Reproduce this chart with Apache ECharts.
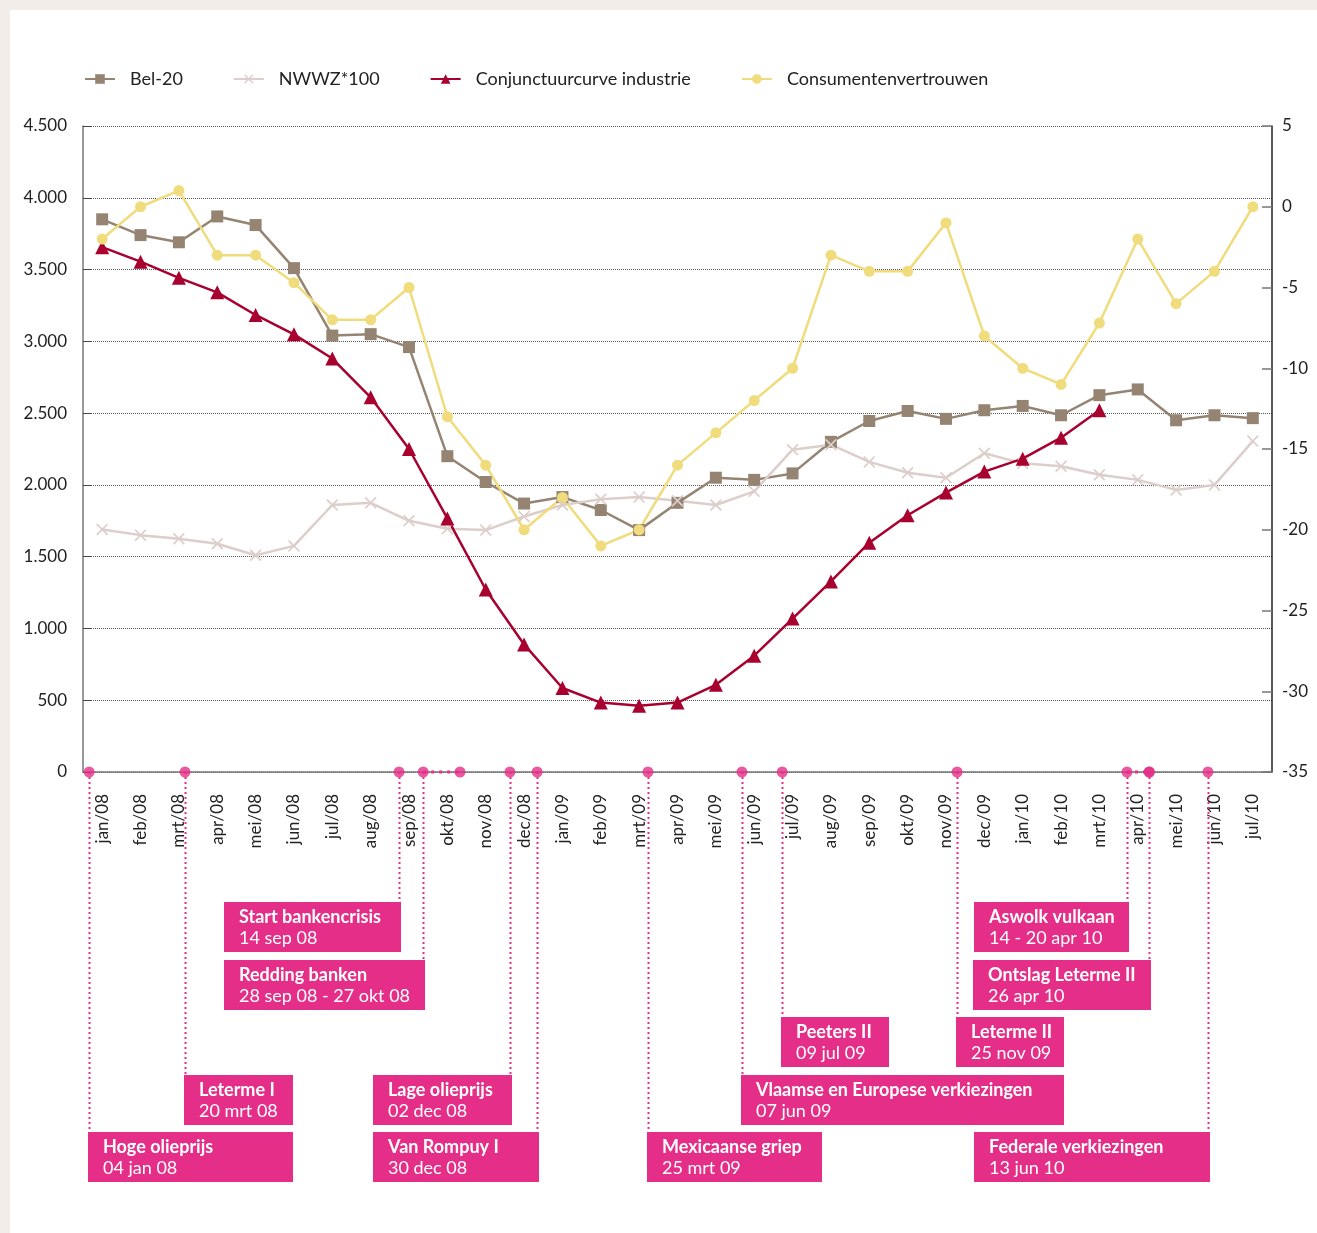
<!DOCTYPE html>
<html>
<head>
<meta charset="utf-8">
<script src="https://cdn.jsdelivr.net/npm/echarts@6/dist/echarts.min.js"></script>
<style>
  html, body { margin: 0; padding: 0; background: #f2ede8; }
  #panel { position: absolute; left: 10px; top: 10px; right: 0; bottom: 0; background: #fff; }
  #main { position: absolute; left: 0; top: 0; width: 1317px; height: 1233px; }
</style>
</head>
<body>
<div id="panel"></div>
<div id="main"></div>
<script>
// maanden
var months = ['jan/08','feb/08','mrt/08','apr/08','mei/08','jun/08','jul/08','aug/08','sep/08','okt/08','nov/08','dec/08',
  'jan/09','feb/09','mrt/09','apr/09','mei/09','jun/09','jul/09','aug/09','sep/09','okt/09','nov/09','dec/09',
  'jan/10','feb/10','mrt/10','apr/10','mei/10','jun/10','jul/10'];

// linkeras
var bel20 = [3850,3740,3690,3870,3810,3510,3040,3050,2960,2200,2020,1870,1915,1825,1685,1875,2050,2035,2080,2300,2445,2515,2460,2520,2550,2485,2625,2665,2450,2485,2465];
var nwwz = [1690,1650,1625,1590,1510,1575,1860,1875,1750,1695,1685,1780,1860,1900,1915,1890,1860,1955,2245,2280,2160,2085,2050,2220,2150,2130,2070,2035,1965,2000,2305];

// rechteras
var conjunctuur = [-2.5,-3.4,-4.4,-5.3,-6.7,-7.9,-9.4,-11.8,-15.0,-19.3,-23.7,-27.1,-29.8,-30.7,-30.9,-30.7,-29.6,-27.8,-25.5,-23.2,-20.8,-19.1,-17.7,-16.4,-15.6,-14.3,-12.6,null,null,null,null];
var consument = [-2,0,1,-3,-3,-4.7,-7,-7,-5,-13,-16,-20,-18,-21,-20,-16,-14,-12,-10,-3,-4,-4,-1,-8,-10,-11,-7.2,-2,-6,-4,0];

// gebeurtenissen (positie in maanden vanaf jan/08)
var eventTitles = ['Hoge olieprijs','Leterme I','Start bankencrisis','Redding banken','Lage olieprijs','Van Rompuy I',
  'Mexicaanse griep','Vlaamse en Europese verkiezingen','Peeters II','Leterme II','Aswolk vulkaan','Ontslag Leterme II','Federale verkiezingen'];
var eventDates = ['04 jan 08','20 mrt 08','14 sep 08','28 sep 08 - 27 okt 08','02 dec 08','30 dec 08',
  '25 mrt 09','07 jun 09','09 jul 09','25 nov 09','14 - 20 apr 10','26 apr 10','13 jun 10'];
var eventPos = [0.16,2.66,8.24,8.87,11.13,11.84,14.73,17.18,18.23,22.79,27.22,27.8,29.33];
var eventEnd = [null,null,null,9.83,null,null,null,null,null,null,27.8,null,null];

// opmaak van de kaders
var boxRow = [4,3,0,1,3,4,4,3,2,2,0,1,4];
var boxSide = ['l','l','r','r','r','r','l','l','l','l','r','r','r'];
var boxWidth = [205,109,177,201,139,166,175,323,108,108,155,178,236];
var rowTop = [902,960,1017,1075,1132];

var PINK = '#e52e87';
var FONT = 'Lato';

function fmt(v) {
  return String(v).replace(/\B(?=(\d{3})+(?!\d))/g, '.');
}

var crossPath = 'path://M1,0 L5,4 L9,0 L10,1 L6,5 L10,9 L9,10 L5,6 L1,10 L0,9 L4,5 L0,1 Z';

var dots = [];
var ranges = [];
for (var i = 0; i < eventPos.length; i++) {
  dots.push([eventPos[i], 0]);
  if (eventEnd[i] != null) {
    dots.push([eventEnd[i], 0]);
    ranges.push([[eventPos[i], 0], [eventEnd[i], 0]]);
  }
}

var rangeSeries = ranges.map(function (r) {
  return {
    type: 'line', xAxisIndex: 1, yAxisIndex: 0, data: r,
    symbol: 'none', silent: true, clip: false, z: 8,
    lineStyle: { color: PINK, width: 3, type: [3, 5] }
  };
});

var myChart = echarts.init(document.getElementById('main'), null, { renderer: 'canvas' });

var option = {
  animation: false,
  backgroundColor: 'transparent',
  textStyle: { fontFamily: FONT },
  legend: {
    left: 79, top: 65,
    itemWidth: 30, itemHeight: 12, itemGap: 50,
    textStyle: { fontSize: 18, color: '#222', fontFamily: FONT, padding: [0, 0, 0, 10] },
    data: ['Bel-20', 'NWWZ*100', 'Conjunctuurcurve industrie', 'Consumentenvertrouwen']
  },
  grid: { left: 83, right: 45, top: 126, bottom: 461, containLabel: false },
  xAxis: [{
    type: 'category',
    data: months,
    boundaryGap: true,
    axisLine: { lineStyle: { color: '#777', width: 1.5 } },
    axisTick: { inside: true, length: 10, lineStyle: { color: '#444' } },
    axisLabel: { rotate: 90, margin: 22, fontSize: 17, color: '#222', fontFamily: FONT, interval: 0 }
  }, {
    type: 'value', min: 0, max: 31, show: false
  }],
  yAxis: [{
    type: 'value', min: 0, max: 4500, interval: 500,
    axisLine: { show: true, lineStyle: { color: '#777', width: 1.5 } },
    axisTick: { show: true, inside: true, length: 8, lineStyle: { color: '#444' } },
    axisLabel: { fontSize: 17, color: '#222', margin: 16, fontFamily: FONT, formatter: fmt },
    splitLine: { lineStyle: { color: '#555', type: 'dotted', width: 1 } }
  }, {
    type: 'value', min: -35, max: 5, interval: 5, position: 'right',
    axisLine: { show: true, lineStyle: { color: '#222', width: 1.5 } },
    axisTick: { show: true, inside: true, length: 10, lineStyle: { color: '#777', width: 1.5 } },
    axisLabel: { fontSize: 17, color: '#222', margin: 10, fontFamily: FONT },
    splitLine: { show: false }
  }],
  series: [{
    name: 'Bel-20', type: 'line', yAxisIndex: 0, data: bel20,
    symbol: 'rect', symbolSize: 12, color: '#968472',
    lineStyle: { width: 2.5, color: '#968472' }, itemStyle: { color: '#968472' }
  }, {
    name: 'NWWZ*100', type: 'line', yAxisIndex: 0, data: nwwz,
    symbol: crossPath, symbolSize: 12, color: '#dcceca',
    lineStyle: { width: 2.5, color: '#dcceca' }, itemStyle: { color: '#dcceca' }
  }, {
    name: 'Conjunctuurcurve industrie', type: 'line', yAxisIndex: 1, data: conjunctuur,
    symbol: 'triangle', symbolSize: 14, color: '#a8002f',
    lineStyle: { width: 2.5, color: '#a8002f' }, itemStyle: { color: '#a8002f' }
  }, {
    name: 'Consumentenvertrouwen', type: 'line', yAxisIndex: 1, data: consument,
    symbol: 'circle', symbolSize: 11, color: '#f0dc7c',
    lineStyle: { width: 2.5, color: '#f0dc7c' }, itemStyle: { color: '#f0dc7c' }
  }, {
    name: 'events', type: 'scatter', xAxisIndex: 1, yAxisIndex: 0, data: dots,
    symbolSize: 11, clip: false, z: 10, silent: true,
    itemStyle: { color: PINK }
  }].concat(rangeSeries)
};

myChart.setOption(option);

// kaders en stippellijnen onder de grafiek
function drawEvents() {
  var axisY = myChart.convertToPixel({ yAxisIndex: 0 }, 0);
  var g = [];
  for (var i = 0; i < eventTitles.length; i++) {
    var lx = Math.round(myChart.convertToPixel({ xAxisIndex: 1 }, eventPos[i])) + 0.5;
    var top = rowTop[boxRow[i]];
    var left = boxSide[i] === 'l' ? lx - 1.5 : lx + 1.5 - boxWidth[i];
    g.push({
      type: 'line', z: 5, silent: true,
      shape: { x1: lx, y1: axisY, x2: lx, y2: top },
      style: { stroke: PINK, lineWidth: 2, lineDash: [2, 3] }
    });
    g.push({
      type: 'rect', z: 6, silent: true,
      shape: { x: left, y: top, width: boxWidth[i], height: 50 },
      style: { fill: PINK }
    });
    g.push({
      type: 'text', z: 7, silent: true,
      x: left + 15, y: top + 15,
      style: { text: eventTitles[i], fill: '#fff', font: 'bold 18px ' + FONT, verticalAlign: 'middle' }
    });
    g.push({
      type: 'text', z: 7, silent: true,
      x: left + 15, y: top + 36,
      style: { text: eventDates[i], fill: '#fff', font: '18px ' + FONT, verticalAlign: 'middle' }
    });
  }
  myChart.setOption({ graphic: g });
}
drawEvents();
</script>
</body>
</html>
